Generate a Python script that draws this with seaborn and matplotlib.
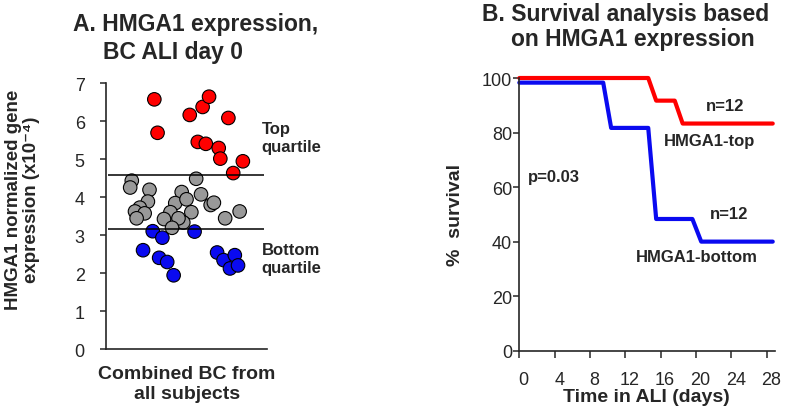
import matplotlib
matplotlib.use("Agg")
import matplotlib.pyplot as plt
import matplotlib.transforms as mtransforms
import numpy as np
import pandas as pd
import seaborn as sns

# panel A: HMGA1 expression per cell sample (x = horizontal scatter position, 0-1)
top_x = [0.30, 0.32, 0.52, 0.60, 0.64, 0.76, 0.57, 0.62, 0.70, 0.71, 0.85, 0.79]
top_y = [6.57, 5.69, 6.16, 6.37, 6.64, 6.08, 5.45, 5.40, 5.29, 5.01, 4.94, 4.63]
mid_x = [0.16, 0.15, 0.27, 0.56, 0.47, 0.59, 0.26, 0.43, 0.50, 0.65, 0.67, 0.21,
         0.18, 0.24, 0.19, 0.53, 0.40, 0.36, 0.48, 0.45, 0.41, 0.74, 0.83]
mid_y = [4.43, 4.25, 4.19, 4.48, 4.13, 4.07, 3.88, 3.84, 3.94, 3.79, 3.85, 3.72,
         3.62, 3.57, 3.44, 3.60, 3.60, 3.42, 3.33, 3.44, 3.19, 3.44, 3.62]
bot_x = [0.29, 0.35, 0.55, 0.23, 0.33, 0.38, 0.42, 0.69, 0.73, 0.80, 0.77, 0.82]
bot_y = [3.10, 2.93, 3.09, 2.60, 2.40, 2.29, 1.94, 2.54, 2.34, 2.47, 2.12, 2.20]
quartile_cuts = [4.58, 3.15]

# panel B: survival curves
top_days = [0, 14.6, 15.5, 17.6, 18.5, 28.7]
top_surv = [100, 100, 91.7, 91.7, 83.3, 83.3]
bot_days = [0, 9.5, 10.4, 14.6, 15.5, 19.6, 20.6, 28.7]
bot_surv = [98.3, 98.3, 81.7, 81.7, 48.3, 48.3, 40, 40]

sns.set_style("ticks")
plt.rcParams['font.family'] = ['Liberation Sans', 'DejaVu Sans']
plt.rcParams['axes.linewidth'] = 1.2

fig = plt.figure(figsize=(7.86, 4.10), dpi=100)

# ---- A ----
axA = fig.add_axes([0.1349, 0.1463, 0.2048, 0.6488])
dfA = pd.DataFrame({
    'x': bot_x + mid_x + top_x,
    'y': bot_y + mid_y + top_y,
    'group': ['bottom'] * len(bot_x) + ['middle'] * len(mid_x) + ['top'] * len(top_x),
})
sns.scatterplot(data=dfA, x='x', y='y', hue='group',
                palette={'bottom': '#0a0af0', 'middle': '#999999', 'top': '#ff0000'},
                s=95, edgecolor='black', linewidth=0.8, legend=False,
                clip_on=False, ax=axA)
axA.hlines(quartile_cuts, 0.01, 0.98, color='black', lw=1.1)
axA.set_xlim(0, 1)
axA.set_ylim(0, 7)
axA.set_xticks([])
axA.set_yticks(range(8))
axA.set_xlabel('')
axA.set_ylabel('')
axA.tick_params(axis='y', direction='out', length=4.3, width=1.1, pad=11, labelsize=13)
sns.despine(ax=axA)
axA.text(0.967, 5.56, 'Top\nquartile', fontsize=12, fontweight='bold',
         ha='left', va='center', linespacing=1.25)
axA.text(0.967, 2.38, 'Bottom\nquartile', fontsize=12, fontweight='bold',
         ha='left', va='center', linespacing=1.25)

fig.text(0.0925, 0.9244, 'A. HMGA1 expression,', fontsize=16.5, fontweight='bold',
         ha='left', va='baseline')
fig.text(0.1307, 0.8553, 'BC ALI day 0', fontsize=16.5, fontweight='bold',
         ha='left', va='baseline')
fig.text(0.0289, 0.5122, 'HMGA1 normalized gene\nexpression (x10\u207b\u2074)',
         fontsize=13.5, fontweight='bold', rotation=90, ha='center', va='center',
         multialignment='center', linespacing=1.05)
fig.text(0.2375, 0.0627, 'Combined BC from\nall subjects', fontsize=14,
         fontweight='bold', ha='center', va='center', multialignment='center')

# ---- B ----
axB = fig.add_axes([0.6607, 0.1422, 0.3258, 0.6651])
dfB = pd.DataFrame({
    'day': top_days + bot_days,
    'surv': top_surv + bot_surv,
    'group': ['HMGA1-top'] * len(top_days) + ['HMGA1-bottom'] * len(bot_days),
})
sns.lineplot(data=dfB, x='day', y='surv', hue='group', sort=False, estimator=None,
             palette={'HMGA1-top': '#ff0000', 'HMGA1-bottom': '#0a0af0'},
             lw=3, legend=False, ax=axB)
for line in axB.lines:
    line.set_clip_on(False)
axB.set_xlim(0, 29)
axB.set_ylim(0, 100)
axB.set_xticks(range(0, 29, 4))
axB.set_yticks(range(0, 101, 20))
axB.set_xlabel('')
axB.set_ylabel('')
axB.tick_params(axis='x', direction='out', length=4.8, width=1.1, pad=9.5, labelsize=13)
axB.tick_params(axis='y', direction='out', length=4.3, width=1.1, pad=1, labelsize=13)
for lbl in axB.get_xticklabels():
    lbl.set_transform(lbl.get_transform() +
                      mtransforms.ScaledTranslation(0.045, 0, fig.dpi_scale_trans))
sns.despine(ax=axB)

axB.text(23.3, 89.9, 'n=12', fontsize=12, fontweight='bold', ha='center', va='center')
axB.text(21.6, 77, 'HMGA1-top', fontsize=12, fontweight='bold', ha='center', va='center')
axB.text(1.0, 63.9, 'p=0.03', fontsize=12, fontweight='bold', ha='left', va='center')
axB.text(23.7, 50.2, 'n=12', fontsize=12, fontweight='bold', ha='center', va='center')
axB.text(20.1, 34.6, 'HMGA1-bottom', fontsize=12, fontweight='bold', ha='center', va='center')

fig.text(0.6128, 0.9488, 'B. Survival analysis based', fontsize=16.5,
         fontweight='bold', ha='left', va='baseline')
fig.text(0.6501, 0.889, 'on HMGA1 expression', fontsize=16.5,
         fontweight='bold', ha='left', va='baseline')
fig.text(0.5789, 0.4756, '%  survival', fontsize=14, fontweight='bold',
         rotation=90, ha='center', va='center')
fig.text(0.8228, 0.0203, 'Time in ALI (days)', fontsize=14, fontweight='bold',
         ha='center', va='baseline')

fig.savefig('out.png', dpi=100)
